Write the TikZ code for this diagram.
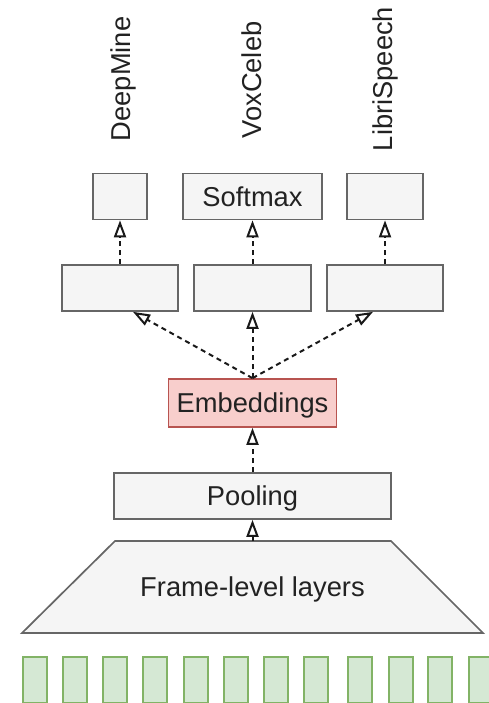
\documentclass[tikz,border=0pt]{standalone}
\usepackage{fontspec}
\setmainfont{Liberation Sans}
\usetikzlibrary{arrows.meta}
\definecolor{boxfill}{HTML}{F5F5F5}
\definecolor{boxline}{HTML}{666666}
\definecolor{embfill}{HTML}{F8CECC}
\definecolor{embline}{HTML}{B85450}
\definecolor{frmfill}{HTML}{D5E8D4}
\definecolor{frmline}{HTML}{82B366}
\definecolor{txt}{HTML}{222222}
\begin{document}
\begin{tikzpicture}[x=1pt,y=-1pt,
  lbl/.style={font=\fontsize{27.3pt}{32pt}\selectfont, text=txt},
  capt/.style={lbl, text height=19.7pt, text depth=0pt, inner sep=0pt},
  block/.style={capt, draw=boxline, fill=boxfill, line width=1.7pt, minimum height=46pt},
  embbox/.style={capt, draw=embline, fill=embfill, line width=1.7pt, minimum height=48pt},
  frame/.style={draw=frmline, fill=frmfill, line width=1.5pt, inner sep=0pt,
    minimum width=24pt, minimum height=46pt, anchor=north west},
  flow/.style={draw=black!90, line width=2pt, dash pattern=on 5pt off 4pt,
    -{Triangle[length=17pt,width=12pt,fill=white,line width=2pt]}},
]
\useasboundingbox (0,0) rectangle (488,703);

% dataset names
\node[lbl, rotate=90] (dm) at (123,79) {DeepMine};
\node[lbl, rotate=90] (vc) at (252,80) {VoxCeleb};
\node[lbl, rotate=90] (ls) at (385.5,79) {LibriSpeech};

% output layers
\node[block, minimum width=54pt]  (o1) at (120,196.5) {};
\node[block, minimum width=139pt] (o2) at (252.5,196.5) {Softmax};
\node[block, minimum width=76pt]  (o3) at (385,196.5) {};

% task-specific hidden layers
\node[block, minimum width=116pt] (h1) at (120,288) {};
\node[block, minimum width=117pt] (h2) at (252.5,288) {};
\node[block, minimum width=116pt] (h3) at (385,288) {};

% shared part
\node[embbox, minimum width=168pt] (emb) at (252.5,403) {Embeddings};
\node[block, minimum width=277pt] (pool) at (252.5,496) {Pooling};

\draw[draw=boxline, fill=boxfill, line width=1.7pt]
  (115,541) -- (391,541) -- (483,633) -- (22,633) -- cycle;
\coordinate (ftop) at (252.5,541);
\node[capt] (frm) at (252.5,587) {Frame-level layers};

% input frames
\foreach \x [count=\i] in {22,62,102,142,183,223,263,303,347,388,427,468}
  \node[frame] (f\i) at (\x,656) {};

% connections
\draw[flow] (ftop) -- (pool.south);
\draw[flow] (pool.north) -- (emb.south);
\draw[flow] (emb.north) -- ([xshift=13pt]h1.south);
\draw[flow] (emb.north) -- (h2.south);
\draw[flow] (emb.north) -- ([xshift=-12pt]h3.south);
\draw[flow] (h1.north) -- (o1.south);
\draw[flow] (h2.north) -- (o2.south);
\draw[flow] (h3.north) -- (o3.south);
\end{tikzpicture}
\end{document}
